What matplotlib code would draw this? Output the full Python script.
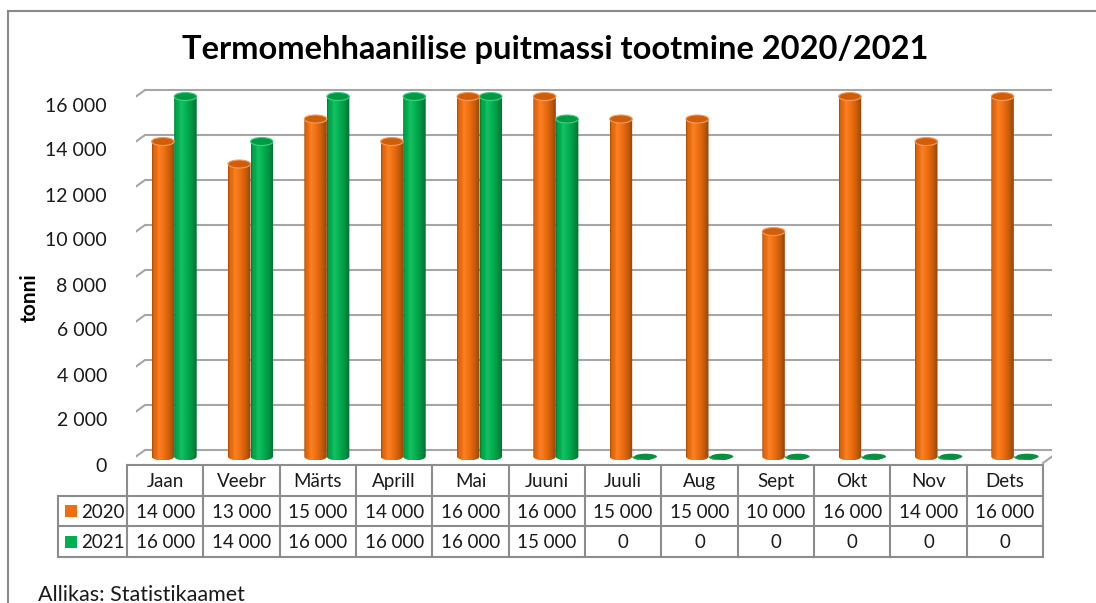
import numpy as np
import matplotlib
matplotlib.use('Agg')
import matplotlib.pyplot as plt
from matplotlib.patches import Ellipse, PathPatch, Rectangle
from matplotlib.path import Path
from matplotlib.colors import to_rgb
import matplotlib.transforms as mtrans

# ---------------- data ----------------
months = ['Jaan', 'Veebr', 'Märts', 'Aprill', 'Mai', 'Juuni',
          'Juuli', 'Aug', 'Sept', 'Okt', 'Nov', 'Dets']
series_names = ['2020', '2021']
values_2020 = [14000, 13000, 15000, 14000, 16000, 16000,
               15000, 15000, 10000, 16000, 14000, 16000]
values_2021 = [16000, 14000, 16000, 16000, 16000, 15000,
               0, 0, 0, 0, 0, 0]
y_ticks = [0, 2000, 4000, 6000, 8000, 10000, 12000, 14000, 16000]
title = 'Termomehhaanilise puitmassi tootmine 2020/2021'
y_label = 'tonni'
source = 'Allikas: Statistikaamet'

# ---------------- style ----------------
plt.rcParams['font.family'] = ['Lato', 'DejaVu Sans']
ORANGE = '#EE6E0E'
GREEN = '#00B050'
TOP_COL = {'2020': ('#CF5E0A', '#F59B5C'), '2021': ('#009A45', '#45CF85')}
BASE_COL = {'2020': ORANGE, '2021': GREEN}
GRID = '#A6A6A6'
TABLE_LINE = '#8C8C8C'
FRAME = '#8A8A8A'
TXT = '#1a1a1a'

W, H = 1096, 603
fig = plt.figure(figsize=(W / 100, H / 100), dpi=100)

# overlay in pixel coordinates for frame, title, table
ov = fig.add_axes([0, 0, 1, 1])
ov.set_xlim(0, W)
ov.set_ylim(H, 0)
ov.axis('off')
ov.set_zorder(0)

# bar axes: mid-depth plane of the 3D box
n = len(months)
PX_CAT = 916 / n
PX_VAL = 360 / 16000
YMIN, YMAX = -800, 16500
mid_left, mid_zero = 136, 456.5
bot_px = mid_zero - YMIN * PX_VAL
top_px = mid_zero - YMAX * PX_VAL
ax = fig.add_axes([mid_left / W, (H - bot_px) / H, 916 / W, (bot_px - top_px) / H])
ax.set_zorder(1)
ax.axis('off')

DX = 9 / PX_CAT        # half depth, category units
DY = 6.5 / PX_VAL      # half depth, value units
x_lo, x_hi = -0.5, n - 0.5

# back wall gridlines and left wall diagonals
for v in y_ticks:
    ax.plot([x_lo + DX, x_hi + DX], [v + DY, v + DY], color=GRID, lw=1.5,
            zorder=1, solid_capstyle='butt')
    ax.plot([x_lo - DX, x_lo + DX], [v - DY, v + DY], color=GRID, lw=1.5,
            zorder=1)
# front left vertical edge
ax.plot([x_lo - DX, x_lo - DX], [0 - DY, y_ticks[-1] - DY], color=GRID, lw=1.5, zorder=1)
# floor right diagonal
ax.plot([x_hi - DX, x_hi + DX], [0 - DY, 0 + DY], color=GRID, lw=1.5, zorder=1)

# y tick labels on the front plane
tick_tr = mtrans.offset_copy(ax.transData, fig=fig, x=-20, y=-3, units='dots')
for v in y_ticks:
    ax.text(x_lo - DX, v - DY, f'{v:,}'.replace(',', ' '), transform=tick_tr,
            ha='right', va='center', fontsize=14, color=TXT)

# cylinders
EH = 8 / PX_VAL
prof_t = [0.0, 0.07, 0.3, 0.55, 0.8, 1.0]
prof_f = [0.70, 0.93, 1.05, 1.0, 0.82, 0.62]
tt = np.linspace(0, 1, 64)
fac = np.interp(tt, prof_t, prof_f)


def cylinder(xc, h, w, name):
    base = np.array(to_rgb(BASE_COL[name]))
    x0, x1 = xc - w / 2, xc + w / 2
    theta = np.linspace(np.pi, 2 * np.pi, 41)
    arc = np.column_stack([xc + w / 2 * np.cos(theta), EH / 2 * np.sin(theta)])
    verts = [(x0, h)] + [tuple(p) for p in arc] + [(x1, h), (x0, h)]
    codes = [Path.MOVETO] + [Path.LINETO] * (len(verts) - 2) + [Path.CLOSEPOLY]
    clip = PathPatch(Path(verts, codes), facecolor='none', edgecolor='none',
                     transform=ax.transData)
    ax.add_patch(clip)
    img = np.clip(base[None, :] * fac[:, None], 0, 1)
    bright = np.clip(fac - 1, 0, None)[:, None]
    img = img + (1 - img) * bright * 2
    img = np.clip(img, 0, 1)[None, :, :]
    im = ax.imshow(img, extent=[x0, x1, -EH / 2, max(h, 1e-6)], aspect='auto',
                   interpolation='bilinear', zorder=3)
    im.set_clip_path(clip)
    face, rim = TOP_COL[name]
    if h > 0:
        ax.add_patch(Ellipse((xc, h), w, EH, facecolor=face, edgecolor=rim,
                             lw=0.8, zorder=4))
    else:
        ax.add_patch(Ellipse((xc + 0.03, h), w, EH * 0.7, facecolor='#0A8F40',
                             edgecolor='none', zorder=4))


bw = 0.295
for i in range(n):
    cylinder(i - bw / 2, values_2020[i], bw, '2020')
    cylinder(i + bw / 2, values_2021[i], bw, '2021')

ax.set_xlim(x_lo, x_hi)
ax.set_ylim(YMIN, YMAX)

# ---------------- frame, title, labels ----------------
ov.plot([8, 8], [11, H + 5], color=FRAME, lw=1.5)
ov.plot([8, W + 5], [11, 11], color=FRAME, lw=1.5)
ov.text(555, 50, title, ha='center', va='center', fontsize=23.5,
        fontweight='bold', color='black')
ov.text(30, 298, y_label, rotation=90, ha='center', va='center', fontsize=15,
        fontweight='bold', color='black')
ov.text(38, 595, source, ha='left', va='center', fontsize=15.5, color=TXT)

# ---------------- data table ----------------
t_left, t_right = 127, 127 + 916
lab_left = 58
y_top, y_r1, y_r2, y_bot = 464.5, 496, 526, 557
col_tr = mtrans.blended_transform_factory(
    mtrans.offset_copy(ax.transData, fig=fig, x=-9, y=0, units='dots'), ov.transData)

for k in range(n + 1):
    ov.plot([x_lo + k, x_lo + k], [y_top, y_bot], color=TABLE_LINE, lw=1.5,
            transform=col_tr)
ov.plot([t_left, t_right], [y_top, y_top], color=TABLE_LINE, lw=1.5)
for yy in (y_r1, y_r2, y_bot):
    ov.plot([lab_left, t_right], [yy, yy], color=TABLE_LINE, lw=1.5)
ov.plot([lab_left, lab_left], [y_r1, y_bot], color=TABLE_LINE, lw=1.5)

fmt = lambda v: f'{v:,}'.replace(',', ' ')
FS_T = 13.5
for i, m in enumerate(months):
    ov.text(i, (y_top + y_r1) / 2 + 1, m, transform=col_tr, ha='center',
            va='center', fontsize=FS_T, color=TXT)
    ov.text(i, (y_r1 + y_r2) / 2 + 1, fmt(values_2020[i]), transform=col_tr,
            ha='center', va='center', fontsize=FS_T, color=TXT)
    ov.text(i, (y_r2 + y_bot) / 2 + 1, fmt(values_2021[i]), transform=col_tr,
            ha='center', va='center', fontsize=FS_T, color=TXT)

for name, (ya, yb) in zip(series_names, [(y_r1, y_r2), (y_r2, y_bot)]):
    yc = (ya + yb) / 2
    ov.add_patch(Rectangle((65, yc - 6), 12, 12, facecolor=BASE_COL[name],
                           edgecolor='none'))
    ov.text(81, yc + 1, name, ha='left', va='center', fontsize=FS_T, color=TXT)

fig.savefig('out.png', dpi=100, facecolor='white')
